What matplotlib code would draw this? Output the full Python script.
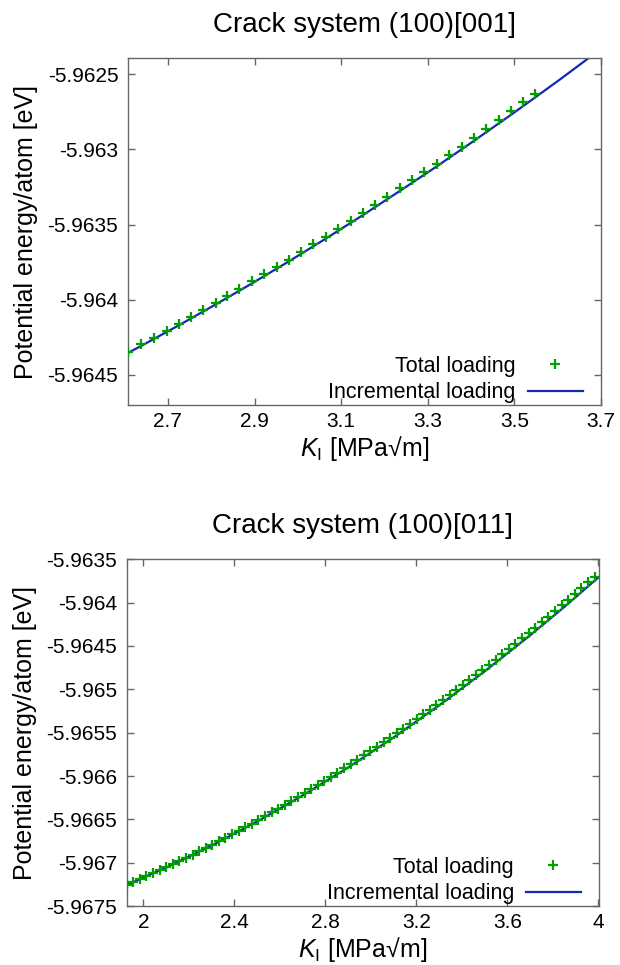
import matplotlib
matplotlib.use("Agg")
import matplotlib.pyplot as plt
from matplotlib.ticker import FixedLocator, FuncFormatter

plt.rcParams['font.family'] = ['Liberation Sans', 'DejaVu Sans']
plt.rcParams['mathtext.fontset'] = 'custom'
plt.rcParams['mathtext.it'] = 'Liberation Sans:italic'
plt.rcParams['mathtext.rm'] = 'Liberation Sans'

# ---- crack system (100)[001] ----
k_tot_001 = [2.609, 2.639, 2.668, 2.697, 2.726, 2.754, 2.782, 2.810, 2.837, 2.865,
             2.895, 2.922, 2.951, 2.980, 3.008, 3.036, 3.065, 3.093, 3.122, 3.151,
             3.178, 3.206, 3.235, 3.264, 3.292, 3.321, 3.349, 3.378, 3.406, 3.435,
             3.465, 3.492, 3.521, 3.547]
e_tot_001 = [-5.964345, -5.964294, -5.964252, -5.964208, -5.964163, -5.964117, -5.964070,
             -5.964024, -5.963977, -5.963929, -5.963878, -5.963831, -5.963782, -5.963734,
             -5.963683, -5.963632, -5.963583, -5.963528, -5.963477, -5.963421, -5.963370,
             -5.963315, -5.963260, -5.963204, -5.963151, -5.963096, -5.963038, -5.962983,
             -5.962923, -5.962865, -5.962806, -5.962748, -5.962688, -5.962633]
k_inc_001 = [2.609, 2.639, 2.726, 2.810, 2.895, 2.980, 3.065, 3.151, 3.235, 3.321,
             3.406, 3.492, 3.548, 3.605, 3.667, 3.700]
e_inc_001 = [-5.964352, -5.964306, -5.964169, -5.964032, -5.963890, -5.963744, -5.963593,
             -5.963436, -5.963278, -5.963113, -5.962945, -5.962771, -5.962655, -5.962536,
             -5.962403, -5.962332]

# ---- crack system (100)[011] ----
k_tot_011 = [1.927, 1.956, 1.985, 2.014, 2.043, 2.072, 2.101, 2.130, 2.159, 2.188,
             2.217, 2.245, 2.274, 2.303, 2.332, 2.361, 2.390, 2.419, 2.448, 2.477,
             2.506, 2.535, 2.564, 2.593, 2.622, 2.651, 2.680, 2.709, 2.738, 2.766,
             2.796, 2.825, 2.853, 2.882, 2.911, 2.940, 2.969, 2.998, 3.027, 3.056,
             3.085, 3.114, 3.143, 3.172, 3.201, 3.230, 3.259, 3.288, 3.317, 3.346,
             3.375, 3.404, 3.432, 3.461, 3.490, 3.519, 3.548, 3.577, 3.606, 3.635,
             3.664, 3.693, 3.722, 3.751, 3.780, 3.809, 3.838, 3.867, 3.896, 3.925,
             3.954, 3.983]
e_tot_011 = [-5.967258, -5.967225, -5.967192, -5.967158, -5.967123, -5.967088, -5.967053,
             -5.967017, -5.966980, -5.966943, -5.966906, -5.966869, -5.966831, -5.966792,
             -5.966753, -5.966713, -5.966672, -5.966632, -5.966590, -5.966548, -5.966506,
             -5.966463, -5.966420, -5.966376, -5.966332, -5.966287, -5.966242, -5.966196,
             -5.966150, -5.966104, -5.966056, -5.966009, -5.965960, -5.965912, -5.965863,
             -5.965813, -5.965763, -5.965712, -5.965661, -5.965610, -5.965558, -5.965505,
             -5.965452, -5.965398, -5.965344, -5.965290, -5.965235, -5.965179, -5.965123,
             -5.965066, -5.965010, -5.964952, -5.964894, -5.964835, -5.964777, -5.964717,
             -5.964657, -5.964597, -5.964536, -5.964474, -5.964413, -5.964350, -5.964287,
             -5.964224, -5.964160, -5.964095, -5.964031, -5.963965, -5.963900, -5.963833,
             -5.963766, -5.963699]
k_inc_011 = [1.927, 2.1, 2.3, 2.5, 2.7, 2.9, 3.1, 3.3, 3.5, 3.7, 3.85, 4.004]
e_inc_011 = [-5.967258, -5.967057, -5.966803, -5.966525, -5.966225, -5.965902, -5.965555,
             -5.965185, -5.964793, -5.964377, -5.964050, -5.963700]

titles = ["Crack system (100)[001]", "Crack system (100)[011]"]
xticks = [[2.7, 2.9, 3.1, 3.3, 3.5, 3.7], [2.0, 2.4, 2.8, 3.2, 3.6, 4.0]]
yticks = [[-5.9645, -5.964, -5.9635, -5.963, -5.9625],
          [-5.9675, -5.967, -5.9665, -5.966, -5.9655, -5.965, -5.9645, -5.964, -5.9635]]
xlims = [(2.608, 3.70), (1.927, 4.004)]
ylims = [(-5.9647, -5.962393), (-5.9675, -5.9635)]

green = '#00a000'
blue = '#1428b4'
frame = '#666666'

fig = plt.figure(figsize=(6.2, 9.65), dpi=100)
boxes = [[0.2065, 0.5803, 0.7629, 0.3596], [0.2043, 0.0611, 0.7623, 0.3593]]

data = [(k_tot_001, e_tot_001, k_inc_001, e_inc_001),
        (k_tot_011, e_tot_011, k_inc_011, e_inc_011)]

fmt = FuncFormatter(lambda v, p: '%g' % v)

for i in range(2):
    ax = fig.add_axes(boxes[i])
    kt, et, ki, ei = data[i]
    ax.plot(kt, et, linestyle='none', marker='+', color=green, markersize=7,
            markeredgewidth=1.6, label='Total loading', zorder=3)
    ax.plot(ki, ei, color=blue, linewidth=1.6, label='Incremental loading', zorder=2)
    ax.set_xlim(*xlims[i])
    ax.set_ylim(*ylims[i])
    ax.xaxis.set_major_locator(FixedLocator(xticks[i]))
    ax.yaxis.set_major_locator(FixedLocator(yticks[i]))
    ax.xaxis.set_major_formatter(fmt)
    ax.yaxis.set_major_formatter(fmt)
    ax.tick_params(direction='in', length=5, width=1, color=frame, labelsize=15,
                   top=True, right=True, pad=7)
    ax.tick_params(axis='x', pad=5)
    for s in ax.spines.values():
        s.set_color(frame)
        s.set_linewidth(1)
    ax.set_title(titles[i], fontsize=20, pad=19)
    ax.set_xlabel(r'$K_\mathrm{I}$ [MPa√m]', fontsize=18, labelpad=2)
    ax.set_ylabel('Potential energy/atom [eV]', fontsize=18)
    ax.yaxis.set_label_coords(-0.19, 0.5)
    ax.legend(loc='lower right', bbox_to_anchor=(0.961, 0.005), frameon=False,
              markerfirst=False, fontsize=15.5, handlelength=2.55, handletextpad=0.55,
              labelspacing=0.25, borderaxespad=0, borderpad=0)

fig.savefig('out.png', dpi=100)
